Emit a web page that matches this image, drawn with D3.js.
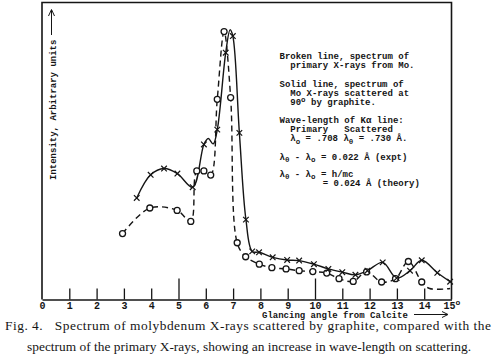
<!DOCTYPE html>
<html><head><meta charset="utf-8">
<script src="https://cdn.jsdelivr.net/npm/d3@7"></script>
<style>body{margin:0;background:#fff} svg{display:block}</style>
</head><body>
<svg id="c" width="493" height="358"></svg>
<script>
// ---- data (angle in degrees, intensity in arbitrary units) ----
const primaryAngle     = [2.95,3.95,4.95,5.45,5.67,5.93,6.18,6.42,6.67,6.91,7.15,7.46,7.96,8.42,8.94,9.42,9.92,10.43,10.88,11.4,11.89,12.44,12.95,13.42,13.91,14.2,14.95];
const primaryIntensity = [22.2,30.8,30.0,26.3,43.3,43.3,41.9,67.4,90.2,68.0,19.1,14.4,11.9,10.7,10.3,9.7,9.4,8.9,7.0,6.1,9.3,5.9,7.0,12.8,5.9,3.7,3.7];
const primaryMarked    = [1,1,1,1,1,1,1,1,1,1,1,1,1,1,1,1,1,1,1,1,1,1,1,1,1,0,0];

const scatteredAngle     = [3.47,3.98,4.47,4.96,5.52,5.93,6.09,6.27,6.42,6.73,6.89,6.99,7.23,7.47,7.7,7.95,8.45,8.98,9.42,9.96,10.49,11.0,11.48,11.92,12.48,12.99,13.48,13.91,14.48,14.95];
const scatteredIntensity = [34.2,42.0,44.1,42.4,37.8,52.2,54.2,52.4,57.2,83.1,90.8,88.7,56.1,26.9,16.2,15.9,14.2,13.3,13.1,11.9,10.3,9.2,8.3,9.7,12.5,7.2,9.7,13.2,9.0,6.0];
const scatteredMarked    = [1,1,1,1,1,1,0,0,1,1,0,1,1,1,1,1,1,1,1,1,1,1,1,1,1,1,1,1,1,1];

const tickValues = [0,1,2,3,4,5,6,7,8,9,10,11,12,13,14,15];
const majorTicks = [5,10];
const tickLabels = ["0","1","2","3","4","5","6","7","8","9","10","11","12","13","14","15"];

const xTitle = "Glancing angle from Calcite";
const yTitle = "Intensity, Arbitrary units";
const captionLines = [
  "Fig. 4.   Spectrum of molybdenum X-rays scattered by graphite, compared with the",
  "spectrum of the primary X-rays, showing an increase in wave-length on scattering."
];
// legend lines: arrays of [text, 0 normal | 1 subscript | 2 superscript]
const legendLines = [
  [["Broken line, spectrum of",0]],
  [["  primary X-rays from Mo.",0]],
  null,
  [["Solid line, spectrum of",0]],
  [["  Mo X-rays scattered at",0]],
  [["  90",0],["o",2],[" by graphite.",0]],
  null,
  [["Wave-length of K\u03b1 line:",0]],
  [["  Primary   Scattered",0]],
  [["  \u03bb",0],["o",1],[" = .708 \u03bb",0],["\u03b8",1],[" = .730 \u00c5.",0]],
  null,
  [["\u03bb",0],["\u03b8",1],[" - \u03bb",0],["o",1],[" = 0.022 \u00c5 (expt)",0]],
  null,
  [["\u03bb",0],["\u03b8",1],[" - \u03bb",0],["o",1],[" = h/mc",0]],
  [["        = 0.024 \u00c5 (theory)",0]]
];
const legendBaselines = [59,68,null,87,96,105,null,123,132,141,null,159.5,null,176.5,185.5];

// ---- drawing ----
const svg = d3.select("#c");
const ink = "#151515";
const mono = "'Liberation Mono', 'DejaVu Sans Mono', monospace";

const x = d3.scaleLinear().domain([0,15]).range([42,451.5]);
const y = d3.scaleLinear().domain([0,100]).range([299.5,2.5]);

// frame
svg.append("path")
  .attr("d", `M${x(0)},${y(0)}V${y(100)}H${x(15)}V${y(0)}`)
  .attr("fill","none").attr("stroke",ink).attr("stroke-width",1.6);

// axis
const axis = d3.axisBottom(x).tickValues(tickValues).tickSizeInner(-11).tickSizeOuter(0)
  .tickFormat((d,i)=>tickLabels[i]);
const gAx = svg.append("g").attr("transform",`translate(0,${y(0)})`).call(axis);
gAx.select(".domain").attr("stroke",ink).attr("stroke-width",1.6);
gAx.selectAll(".tick line").attr("stroke",ink).attr("stroke-width",1.3)
  .attr("y2", d => majorTicks.includes(d) ? -21 : -11)
  .attr("opacity", d => (d===0||d===15) ? 0 : 1);
gAx.selectAll(".tick text")
  .attr("y",9).attr("dy",0)
  .attr("fill",ink)
  .style("font-family",mono).style("font-size","10px").style("font-weight","bold");
gAx.selectAll(".tick").filter(d=>d===15).select("text")
  .append("tspan").attr("dy",-4).style("font-size","8px").text("o");

// axis titles
svg.append("text").attr("x",262).attr("y",317.5)
  .style("font-family",mono).style("font-size","9px").style("font-weight","bold")
  .attr("fill",ink).text(xTitle);
svg.append("line").attr("x1",414).attr("x2",447).attr("y1",314.5).attr("y2",314.5)
  .attr("stroke",ink).attr("stroke-width",1);
svg.append("path").attr("d","M442,311.5L448,314.5L442,317.5").attr("fill","none")
  .attr("stroke",ink).attr("stroke-width",1);

svg.append("text").attr("transform","translate(55.5,180) rotate(-90)")
  .style("font-family",mono).style("font-size","9px").style("font-weight","bold")
  .attr("fill",ink).text(yTitle);
svg.append("line").attr("x1",51.5).attr("x2",51.5).attr("y1",35).attr("y2",10)
  .attr("stroke",ink).attr("stroke-width",1);
svg.append("path").attr("d","M48.5,16L51.5,9.5L54.5,16").attr("fill","none")
  .attr("stroke",ink).attr("stroke-width",1);

// legend text
const gLeg = svg.append("g").style("font-family",mono).style("font-size","9px")
  .style("font-weight","bold").attr("fill",ink);
legendLines.forEach((line,i)=>{
  if(!line) return;
  const t = gLeg.append("text").attr("x",279.5).attr("y",legendBaselines[i])
    .attr("xml:space","preserve").style("white-space","pre");
  let shift = 0;
  line.forEach(([s,sub])=>{
    const target = sub===1 ? 2.5 : sub===2 ? -3.5 : 0;
    t.append("tspan").attr("dy", target - shift)
      .style("font-size", sub ? "7.5px" : "9px").text(s);
    shift = target;
  });
});

// series
function series(ax, iv, marked){
  return ax.map((a,i)=>({a, v:iv[i], m:marked[i]}));
}
const primary = series(primaryAngle, primaryIntensity, primaryMarked);
const scattered = series(scatteredAngle, scatteredIntensity, scatteredMarked);

const line = d3.line().x(d=>x(d.a)).y(d=>y(d.v)).curve(d3.curveCatmullRom.alpha(0.5));

svg.append("path").attr("d", line(primary)).attr("fill","none")
  .attr("stroke",ink).attr("stroke-width",1.4).attr("stroke-dasharray","6,4");
svg.append("path").attr("d", line(scattered)).attr("fill","none")
  .attr("stroke",ink).attr("stroke-width",1.4);

svg.append("g").selectAll("circle").data(primary.filter(d=>d.m)).join("circle")
  .attr("cx",d=>x(d.a)).attr("cy",d=>y(d.v)).attr("r",3)
  .attr("fill","#fff").attr("stroke",ink).attr("stroke-width",1.3);

const s = 2.8;
svg.append("g").selectAll("path").data(scattered.filter(d=>d.m)).join("path")
  .attr("d",d=>{const cx=x(d.a), cy=y(d.v);
    return `M${cx-s},${cy-s}L${cx+s},${cy+s}M${cx-s},${cy+s}L${cx+s},${cy-s}`;})
  .attr("stroke",ink).attr("stroke-width",1.2).attr("fill","none");

// caption
const gCap = svg.append("g").style("font-family","'Liberation Serif','DejaVu Serif',serif")
  .style("font-size","13.4px").attr("fill",ink);
gCap.append("text").attr("x",5).attr("y",330).attr("xml:space","preserve")
  .style("white-space","pre").attr("textLength",486).attr("lengthAdjust","spacing")
  .text(captionLines[0]);
gCap.append("text").attr("x",27).attr("y",350.5)
  .attr("textLength",444).attr("lengthAdjust","spacing")
  .text(captionLines[1]);
</script>
</body></html>
